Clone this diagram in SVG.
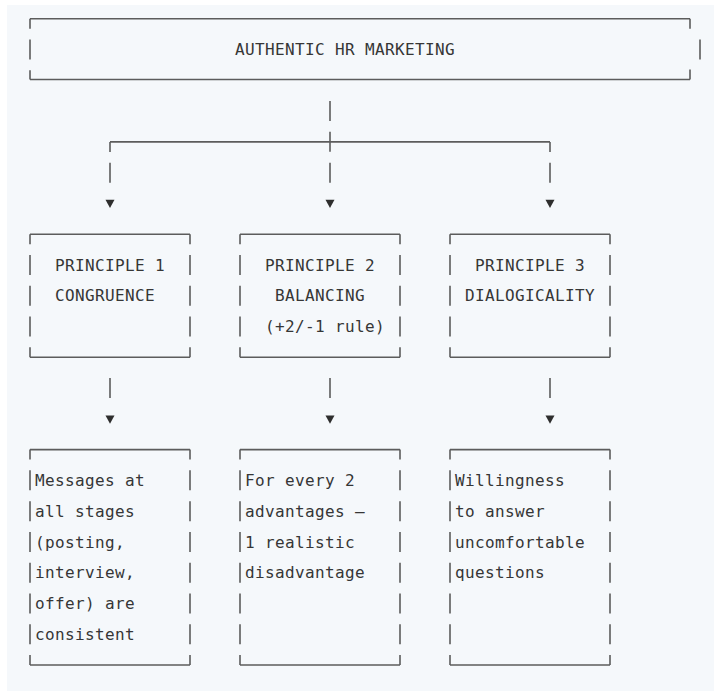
<svg xmlns="http://www.w3.org/2000/svg" width="714" height="691" viewBox="0 0 714 691">
  <defs>
    <style>
      .bg { fill: #f5f8fb; }
      .h { stroke: #5c5c5c; stroke-width: 1.6; fill: none; }
      .v { stroke: #5c5c5c; stroke-width: 1.6; fill: none; stroke-dasharray: 20 10.77; stroke-dashoffset: 10; }
      .v0 { stroke: #5c5c5c; stroke-width: 1.6; fill: none; stroke-dasharray: 20 10.77; }
      .t { font-family: "DejaVu Sans Mono", "Liberation Mono", monospace; font-size: 16px; letter-spacing: 0.37px; fill: #363636; }
      .arr { fill: #2e2e2e; }
    </style>
    <path id="tri" d="M-4.5,-4.5 L4.5,-4.5 L0,3.8 Z"/>
  </defs>

  <rect x="0" y="0" width="714" height="691" fill="#ffffff"/>
  <rect class="bg" x="7" y="5" width="707" height="686"/>

  <g id="node-top">
    <path class="h" d="M30,18.8 H690 M30,79.5 H690"/>
    <line class="v" x1="30" y1="18.8" x2="30" y2="79.5"/>
    <path class="h" d="M690,18.8 V28.8 M690,69.5 V79.5 M700,39.6 V59.6"/>
    <text class="t" x="235" y="55">AUTHENTIC HR MARKETING</text>
  </g>

  <g id="connectors">
    <line class="v0" x1="330" y1="101.1" x2="330" y2="182.7"/>
    <path class="h" d="M110,141.9 H550"/>
    <line class="v" x1="110" y1="141.9" x2="110" y2="182.7"/>
    <line class="v" x1="550" y1="141.9" x2="550" y2="182.7"/>
    <use href="#tri" class="arr" x="110" y="204.2"/>
    <use href="#tri" class="arr" x="330" y="204.2"/>
    <use href="#tri" class="arr" x="550" y="204.2"/>
    <path class="h" d="M110,378 V398 M330,378 V398 M550,378 V398"/>
    <use href="#tri" class="arr" x="110" y="420"/>
    <use href="#tri" class="arr" x="330" y="420"/>
    <use href="#tri" class="arr" x="550" y="420"/>
  </g>

  <g id="node-p1">
    <path class="h" d="M30,234.2 H190 M30,357.3 H190"/>
    <line class="v" x1="30" y1="234.2" x2="30" y2="357.3"/>
    <line class="v" x1="190" y1="234.2" x2="190" y2="357.3"/>
    <text class="t" x="55" y="270.6">PRINCIPLE 1</text>
    <text class="t" x="55" y="301.3">CONGRUENCE</text>
  </g>

  <g id="node-p2">
    <path class="h" d="M240,234.2 H400 M240,357.3 H400"/>
    <line class="v" x1="240" y1="234.2" x2="240" y2="357.3"/>
    <line class="v" x1="400" y1="234.2" x2="400" y2="357.3"/>
    <text class="t" x="265" y="270.6">PRINCIPLE 2</text>
    <text class="t" x="275" y="301.3">BALANCING</text>
    <text class="t" x="265" y="332.1">(+2/-1 rule)</text>
  </g>

  <g id="node-p3">
    <path class="h" d="M450,234.2 H610 M450,357.3 H610"/>
    <line class="v" x1="450" y1="234.2" x2="450" y2="357.3"/>
    <line class="v" x1="610" y1="234.2" x2="610" y2="357.3"/>
    <text class="t" x="475" y="270.6">PRINCIPLE 3</text>
    <text class="t" x="465" y="301.3">DIALOGICALITY</text>
  </g>

  <g id="node-d1">
    <path class="h" d="M30,449.6 H190 M30,665 H190"/>
    <line class="v" x1="30" y1="449.6" x2="30" y2="665"/>
    <line class="v" x1="190" y1="449.6" x2="190" y2="665"/>
    <text class="t" x="35" y="486">Messages at</text>
    <text class="t" x="35" y="516.7">all stages</text>
    <text class="t" x="35" y="547.5">(posting,</text>
    <text class="t" x="35" y="578.3">interview,</text>
    <text class="t" x="35" y="609">offer) are</text>
    <text class="t" x="35" y="639.8">consistent</text>
  </g>

  <g id="node-d2">
    <path class="h" d="M240,449.6 H400 M240,665 H400"/>
    <line class="v" x1="240" y1="449.6" x2="240" y2="665"/>
    <line class="v" x1="400" y1="449.6" x2="400" y2="665"/>
    <text class="t" x="245" y="486">For every 2</text>
    <text class="t" x="245" y="516.7">advantages —</text>
    <text class="t" x="245" y="547.5">1 realistic</text>
    <text class="t" x="245" y="578.3">disadvantage</text>
  </g>

  <g id="node-d3">
    <path class="h" d="M450,449.6 H610 M450,665 H610"/>
    <line class="v" x1="450" y1="449.6" x2="450" y2="665"/>
    <line class="v" x1="610" y1="449.6" x2="610" y2="665"/>
    <text class="t" x="455" y="486">Willingness</text>
    <text class="t" x="455" y="516.7">to answer</text>
    <text class="t" x="455" y="547.5">uncomfortable</text>
    <text class="t" x="455" y="578.3">questions</text>
  </g>
</svg>
